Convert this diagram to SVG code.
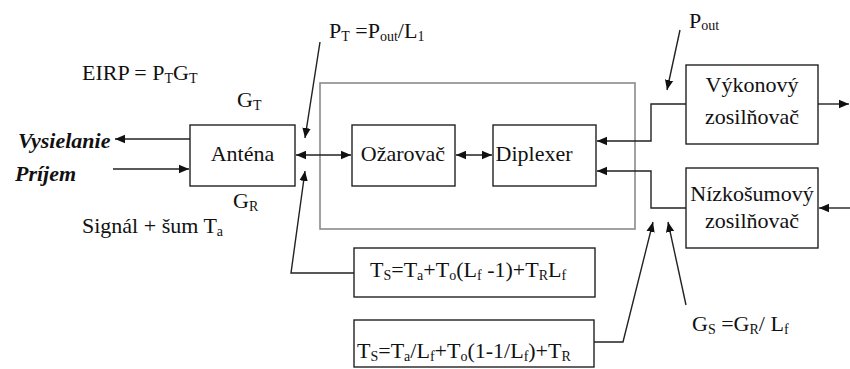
<svg xmlns="http://www.w3.org/2000/svg" width="850" height="369" viewBox="0 0 850 369" font-family="Liberation Serif, Times New Roman, serif">
<defs>
<style>
text{font-size:22px;fill:#111}
.bi{font-weight:bold;font-style:italic}
.sub{font-size:14px}
.box{fill:#fff;stroke:#222;stroke-width:1.4}
.frame{fill:none;stroke:#8a8a8a;stroke-width:1.6}
.c{fill:none;stroke:#222;stroke-width:1.4}
.ar{marker-end:url(#ah)}
.ar2{marker-start:url(#ahs);marker-end:url(#ah)}
</style>
<marker id="ah" viewBox="0 0 10 10" refX="10" refY="5" markerWidth="10" markerHeight="10" markerUnits="userSpaceOnUse" orient="auto"><path d="M0,0.8 L10,5 L0,9.2 z" fill="#111"/></marker>
<marker id="ahs" viewBox="0 0 10 10" refX="0" refY="5" markerWidth="10" markerHeight="10" markerUnits="userSpaceOnUse" orient="auto"><path d="M10,0.8 L0,5 L10,9.2 z" fill="#111"/></marker>
</defs>
<rect width="850" height="369" fill="#fff"/>

<rect id="frame" class="frame" x="320" y="83" width="315" height="146"/>

<g id="connectors">
<line class="c ar2" x1="296" y1="155" x2="351" y2="155"/>
<line class="c ar2" x1="456" y1="155" x2="492" y2="155"/>
<polyline class="c ar" points="686,104 651,104 651,141 597,141"/>
<polyline class="c ar" points="686,208 651,208 651,171 597,171"/>
<line class="c ar" x1="818" y1="104" x2="849" y2="104"/>
<line class="c ar" x1="850" y1="208" x2="819" y2="208"/>
<line class="c ar" x1="190" y1="139" x2="115" y2="139"/>
<line class="c ar" x1="113" y1="169" x2="189" y2="169"/>
<line class="c ar" x1="320" y1="42" x2="305" y2="138"/>
<polyline class="c ar" points="354,273 291,273 305,171"/>
<polyline class="c ar" points="594,342 623,342 653,222"/>
<line class="c ar" x1="686" y1="305" x2="668" y2="222"/>
<line class="c ar" x1="680" y1="30" x2="667" y2="90"/>
</g>

<g id="antena"><rect class="box" x="190" y="125" width="105" height="61"/><text x="242.5" y="161" text-anchor="middle">Anténa</text></g>
<g id="ozarovac"><rect class="box" x="352" y="125" width="103" height="61"/><text x="403" y="161" text-anchor="middle">Ožarovač</text></g>
<g id="diplexer"><rect class="box" x="493" y="125" width="103" height="61"/><text x="534" y="161" text-anchor="middle">Diplexer</text></g>
<g id="vykonovy"><rect class="box" x="686" y="65" width="132" height="79"/><text x="752" y="92" text-anchor="middle">Výkonový</text><text x="752" y="124" text-anchor="middle">zosilňovač</text></g>
<g id="nizkosumovy"><rect class="box" x="686" y="168" width="132" height="80"/><text x="752" y="201" text-anchor="middle">Nízkošumový</text><text x="752" y="228" text-anchor="middle">zosilňovač</text></g>
<g id="ts1"><rect class="box" x="354" y="248" width="241" height="49"/><text x="370" y="277">T<tspan class="sub" dy="3">S</tspan><tspan dy="-3">=T</tspan><tspan class="sub" dy="3">a</tspan><tspan dy="-3">+T</tspan><tspan class="sub" dy="3">o</tspan><tspan dy="-3">(L</tspan><tspan class="sub" dy="3">f</tspan><tspan dy="-3"> -1)+T</tspan><tspan class="sub" dy="3">R</tspan><tspan dy="-3">L</tspan><tspan class="sub" dy="3">f</tspan></text></g>
<g id="ts2"><rect class="box" x="354" y="320" width="240" height="47"/><text x="357" y="358">T<tspan class="sub" dy="3">S</tspan><tspan dy="-3">=T</tspan><tspan class="sub" dy="3">a</tspan><tspan dy="-3">/L</tspan><tspan class="sub" dy="3">f</tspan><tspan dy="-3">+T</tspan><tspan class="sub" dy="3">o</tspan><tspan dy="-3">(1-1/L</tspan><tspan class="sub" dy="3">f</tspan><tspan dy="-3">)+T</tspan><tspan class="sub" dy="3">R</tspan></text></g>

<g id="labels">
<text x="82" y="80">EIRP = P<tspan class="sub" dy="3">T</tspan><tspan dy="-3">G</tspan><tspan class="sub" dy="3">T</tspan></text>
<text x="237" y="107">G<tspan class="sub" dy="3">T</tspan></text>
<text x="233" y="208">G<tspan class="sub" dy="3">R</tspan></text>
<text class="bi" x="18" y="148">Vysielanie</text>
<text class="bi" x="15" y="181">Príjem</text>
<text x="82" y="233">Signál + šum T<tspan class="sub" dy="3">a</tspan></text>
<text x="329" y="38">P<tspan class="sub" dy="3">T</tspan><tspan dy="-3"> =P</tspan><tspan class="sub" dy="3">out</tspan><tspan dy="-3">/L</tspan><tspan class="sub" dy="3">1</tspan></text>
<text x="689" y="28">P<tspan class="sub" dy="2">out</tspan></text>
<text x="692" y="331">G<tspan class="sub" dy="3">S</tspan><tspan dy="-3"> =G</tspan><tspan class="sub" dy="3">R</tspan><tspan dy="-3">/ L</tspan><tspan class="sub" dy="3">f</tspan></text>
</g>
</svg>
